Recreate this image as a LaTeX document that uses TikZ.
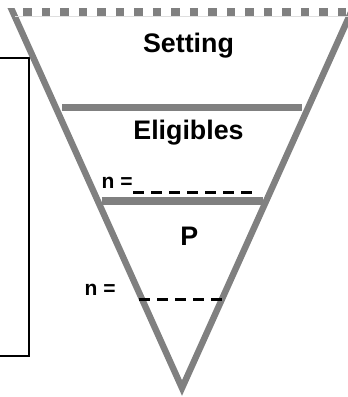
\documentclass[tikz,border=0pt]{standalone}
\usepackage{fontspec}
\setmainfont{Liberation Sans}
\begin{document}
\begin{tikzpicture}[x=1pt,y=-1pt,
  funnel/.style={draw=funnelgray, line width=6.4pt, line join=miter},
  shelf/.style={draw=funnelgray, line width=7.2pt},
  rim/.style={draw=funnelgray, line width=7.8pt, dash pattern=on 8.3pt off 10.2pt},
  blank/.style={draw=black, line width=2.3pt, dash pattern=on 11pt off 7pt},
  bracket/.style={draw=black, line width=2.5pt, line join=miter},
  title/.style={font=\fontsize{26.8}{31}\selectfont\bfseries, inner sep=0pt, anchor=base},
  count/.style={font=\fontsize{21}{25}\selectfont\bfseries, inner sep=0pt, anchor=base west}]
\definecolor{funnelgray}{HTML}{808080}
\useasboundingbox (0,0) rectangle (348,397);

% bracket on the left
\draw[bracket] (0,58) -- (29,58) -- (29,356) -- (0,356);

% funnel sides, cut flat at the rim
\begin{scope}
  \clip (0,8) rectangle (360,397);
  \coordinate (tipL) at (7.4,0);
  \coordinate (apex) at (182,388);
  \coordinate (tipR) at (356.6,0);
  \draw[funnel] (tipL) -- (apex) -- (tipR);
\end{scope}

% dashed rim
\coordinate (rimL) at (23.3,12);
\coordinate (rimR) at (352,12);
\draw[draw=gray!25, line width=0.6pt] (15,16) -- (348,16);
\draw[rim] (rimL) -- (rimR);

% stage dividers
\coordinate (s1L) at (62,107.5);
\coordinate (s1R) at (302,107.5);
\coordinate (s2L) at (101.7,201);
\coordinate (s2R) at (263,201);
\draw[shelf] (s1L) -- (s1R);
\draw[shelf] (s2L) -- (s2R);

% labels
\node[title] (setting) at (188.5,52.3) {Setting};
\node[title] (eligibles) at (188.5,139.3) {Eligibles};
\node[title] (p) at (189.2,245) {P};

\node[count] (n1) at (101.5,188) {n =};
\node[count] (n2) at (84.5,295.7) {n =};

% fill-in blanks
\coordinate (b1L) at (133,192.5);
\coordinate (b1R) at (252,192.5);
\coordinate (b2L) at (139,299.5);
\coordinate (b2R) at (222,299.5);
\draw[blank] (b1L) -- (b1R);
\draw[blank] (b2L) -- (b2R);
\end{tikzpicture}
\end{document}
